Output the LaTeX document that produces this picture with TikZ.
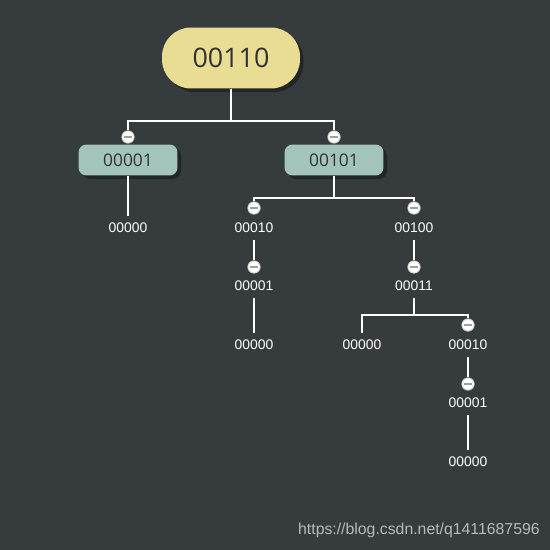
\documentclass[tikz,border=0pt]{standalone}
\usepackage{fontspec}
\setmainfont{Liberation Sans}
\newfontfamily\boxfont{Open Sans}
\usetikzlibrary{shadows}
\definecolor{bgdark}{RGB}{54,59,62}
\definecolor{rootyellow}{RGB}{233,221,147}
\definecolor{boxgreen}{RGB}{163,196,188}
\definecolor{boxtext}{RGB}{45,50,50}

\begin{document}
\begin{tikzpicture}[x=0.02cm, y=-0.02cm,
    link/.style={white, line width=1.3pt},
    fold/.style={circle, fill=white, draw=gray!40, line width=0.5pt, minimum size=7pt, inner sep=0pt,
        path picture={\draw[gray!75, line width=0.9pt] ([xshift=-2.4pt]path picture bounding box.center) -- ([xshift=2.4pt]path picture bounding box.center);}},
    rootbox/.style={rounded corners=0.58cm, fill=rootyellow, minimum width=2.76cm, minimum height=1.22cm,
        font=\boxfont\fontsize{15.3}{18}\selectfont, text=boxtext,
        drop shadow={shadow xshift=2pt, shadow yshift=-2pt, opacity=0.35, fill=black}},
    midbox/.style={rounded corners=0.16cm, fill=boxgreen, minimum width=1.98cm, minimum height=0.62cm,
        font=\boxfont\fontsize{9.9}{12}\selectfont, text=boxtext,
        drop shadow={shadow xshift=2pt, shadow yshift=-2pt, opacity=0.35, fill=black}},
    leaf/.style={white, font=\fontsize{7.9}{9.5}\selectfont, inner xsep=1.5pt, inner ysep=4pt}]
    % background
    \fill[bgdark] (0,0) rectangle (550,550);
    \useasboundingbox (0,0) rectangle (550,550);

    % root and first level
    \node[rootbox] (root) at (231,58) {00110};
    \coordinate (j0) at (231,121);
    \node[midbox] (nA) at (128,160) {00001};
    \node[midbox] (nB) at (334,160) {00101};
    \node[fold] (fA) at (128,137) {};
    \node[fold] (fB) at (334,137) {};
    \draw[link] (root) -- (j0);
    \draw[link] (fA) |- (j0) -| (fB);

    % left branch
    \node[leaf] (lA) at (128,228) {00000};
    \draw[link] (nA) -- (lA);

    % right branch
    \coordinate (j1) at (334,198);
    \node[fold] (fC) at (254,208) {};
    \node[fold] (fD) at (414,208) {};
    \node[leaf] (lC) at (254,228) {00010};
    \node[leaf] (lD) at (414,228) {00100};
    \draw[link] (nB) -- (j1);
    \draw[link] (fC) |- (j1) -| (fD);

    \node[fold] (fE) at (254,267) {};
    \node[leaf] (lE) at (254,286) {00001};
    \node[leaf] (lF) at (254,345) {00000};
    \draw[link] (lC) -- (fE);
    \draw[link] (lE) -- (lF);

    \node[fold] (fG) at (414,267) {};
    \node[leaf] (lG) at (414,286) {00011};
    \coordinate (j2) at (414,315);
    \node[leaf] (lH) at (362,345) {00000};
    \node[fold] (fI) at (468,325) {};
    \node[leaf] (lI) at (468,345) {00010};
    \draw[link] (lD) -- (fG);
    \draw[link] (lG) -- (j2);
    \draw[link] (lH) |- (j2) -| (fI);

    \node[fold] (fJ) at (468,384) {};
    \node[leaf] (lJ) at (468,403) {00001};
    \node[leaf] (lK) at (468,462) {00000};
    \draw[link] (lI) -- (fJ);
    \draw[link] (lJ) -- (lK);

    % watermark
    \node[anchor=east, text=gray!55, font=\fontsize{9}{11}\selectfont, inner sep=0pt] (mark) at (540,530) {https://blog.csdn.net/q1411687596};
\end{tikzpicture}
\end{document}
